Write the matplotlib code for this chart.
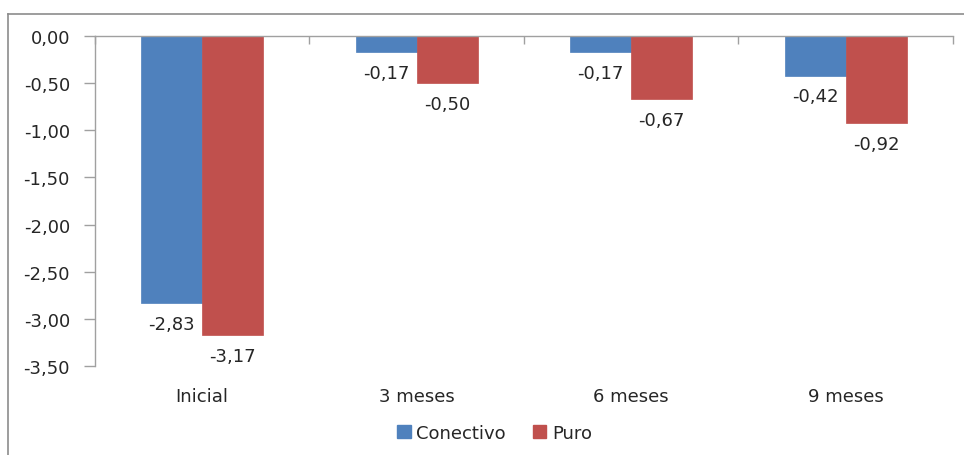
import matplotlib
matplotlib.use("Agg")
import matplotlib.pyplot as plt
from matplotlib.lines import Line2D
from matplotlib.patches import Patch
import numpy as np

categories = ["Inicial", "3 meses", "6 meses", "9 meses"]
conectivo = [-2.83, -0.17, -0.17, -0.42]
puro = [-3.17, -0.50, -0.67, -0.92]
series_names = ["Conectivo", "Puro"]
yticks = [0.0, -0.5, -1.0, -1.5, -2.0, -2.5, -3.0, -3.5]

BLUE = "#4F81BD"
RED = "#C0504D"
TEXT = "#262626"
AXIS = "#A0A0A0"

plt.rcParams["font.family"] = ["DejaVu Sans"]
fs = 13

fig = plt.figure(figsize=(9.64, 4.56), dpi=100)
ax = fig.add_axes([0.0985, 0.1952, 0.8901, 0.7237])

x = np.arange(len(categories))
w = 0.285
b1 = ax.bar(x - w / 2, conectivo, w, color=BLUE, edgecolor=BLUE, linewidth=0.5)
b2 = ax.bar(x + w / 2, puro, w, color=RED, edgecolor=RED, linewidth=0.5)

def fmt(v):
    return f"{v:.2f}".replace(".", ",")

for bars, vals in ((b1, conectivo), (b2, puro)):
    for rect, v in zip(bars, vals):
        ax.annotate(fmt(v), (rect.get_x() + rect.get_width() / 2, v),
                    xytext=(0, -15), textcoords="offset points",
                    ha="center", va="center", fontsize=fs, color=TEXT)

ax.set_xlim(-0.5, len(categories) - 0.5)
ax.set_ylim(-3.5, 0)
ax.set_yticks(yticks)
ax.set_yticklabels([fmt(v) for v in yticks])

ax.set_xticks(x)
ax.set_xticklabels(categories)
ax.set_xticks(np.arange(len(categories) + 1) - 0.5, minor=True)
ax.tick_params(axis="x", which="major", length=0, pad=15, labelsize=fs, colors=TEXT)
ax.tick_params(axis="x", which="minor", bottom=False, top=True, direction="in",
               length=6, color=AXIS, width=1)
ax.tick_params(axis="y", length=8, color=AXIS, width=1, labelsize=fs,
               labelcolor=TEXT, pad=10)

for s in ("right", "bottom"):
    ax.spines[s].set_visible(False)
for s in ("left", "top"):
    ax.spines[s].set_color(AXIS)
    ax.spines[s].set_linewidth(1)

# Outer chart frame (top and left edges)
fig.add_artist(Line2D([8 / 964, 1.0], [1 - 15 / 456, 1 - 15 / 456],
                      transform=fig.transFigure, color="#8C8C8C", lw=1.2))
fig.add_artist(Line2D([8 / 964, 8 / 964], [0.0, 1 - 15 / 456],
                      transform=fig.transFigure, color="#8C8C8C", lw=1.2))

handles = [Patch(facecolor=BLUE, edgecolor=BLUE), Patch(facecolor=RED, edgecolor=RED)]
fig.legend(handles, series_names, loc="center", bbox_to_anchor=(0.513, 0.048),
           ncol=2, frameon=False, fontsize=fs, handlelength=0.75, handleheight=0.75,
           handletextpad=0.3, columnspacing=1.5, labelcolor=TEXT)

fig.savefig("out.png", dpi=100)
